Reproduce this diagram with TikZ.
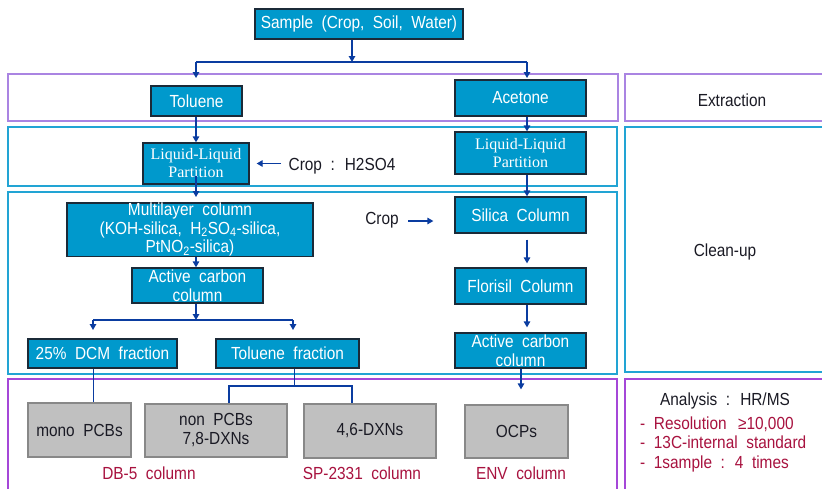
\documentclass[tikz,border=0pt]{standalone}
\usepackage{fontspec}
\setmainfont{Liberation Sans}[FakeStretch=0.88, WordSpace={2.0}]
\newfontfamily\serifbox{Liberation Serif}
\usetikzlibrary{arrows.meta}

\definecolor{boxblue}{HTML}{0099CC}
\definecolor{boxedge}{HTML}{1B2A38}
\definecolor{boxgray}{HTML}{C0C0C0}
\definecolor{grayedge}{HTML}{888888}
\definecolor{flowblue}{HTML}{0A3CA0}
\definecolor{extractframe}{HTML}{AA84E2}
\definecolor{cleanframe}{HTML}{22A4D4}
\definecolor{analysisframe}{HTML}{A547D8}
\definecolor{notered}{HTML}{A8123F}
\definecolor{inktext}{HTML}{1A1A24}

\newcommand{\fsz}[2]{\fontsize{#1}{#2}\selectfont}

\tikzset{
  bluebox/.style={draw=boxedge, fill=boxblue, line width=1.3pt, text=white,
    inner sep=0pt, align=center, font=\fsz{17.5}{18.5}},
  serifbox/.style={bluebox, font=\serifbox\fsz{16}{18}},
  graybox/.style={draw=grayedge, fill=boxgray, line width=1.2pt, text=inktext,
    inner sep=0pt, align=center, font=\fsz{17.5}{19}},
  flow/.style={draw=flowblue, line width=1.3pt, -{Triangle[length=6pt,width=6.5pt]}},
  branch/.style={draw=flowblue, line width=2pt},
  feed/.style={draw=flowblue, line width=1pt},
  stagelabel/.style={text=inktext, font=\fsz{17.5}{19}},
  columnlabel/.style={text=notered, font=\fsz{17.5}{19}},
  frame/.style={line width=1.4pt, fill=none},
}

\begin{document}
\begin{tikzpicture}[x=1pt, y=-1pt]
\useasboundingbox[fill=white] (0,0) rectangle (822,488);

% stage frames
\draw[frame, draw=extractframe] (8,74) rectangle (618,121);
\draw[frame, draw=extractframe] (625,74) rectangle (830,121);
\draw[frame, draw=cleanframe] (8,127) rectangle (617,186);
\draw[frame, draw=cleanframe] (8,192) rectangle (617,374);
\draw[frame, draw=cleanframe] (625,127) rectangle (830,372);
\draw[frame, draw=analysisframe] (8,379) rectangle (617,500);
\draw[frame, draw=analysisframe] (625,379) rectangle (830,500);

% stage names
\node[stagelabel] (extraction) at (732,100) {Extraction};
\node[stagelabel] (cleanup) at (725,252) {Clean-up};
\node[stagelabel] (analysis) at (725,401) {Analysis : HR/MS};
\node[anchor=west, text=notered, font=\fsz{17.5}{19.5}, align=left, inner sep=0pt]
  (specs) at (640,444) {- Resolution \,≥10,000\\- 13C-internal standard\\- 1sample : 4 times};

% process boxes
\node[bluebox, minimum width=208, minimum height=30] (sample) at (359,24) {Sample (Crop, Soil, Water)};
\node[bluebox, minimum width=91, minimum height=30] (toluene) at (196.5,101) {Toluene};
\node[bluebox, minimum width=131, minimum height=36] (acetone) at (520.5,98) {Acetone};
\node[serifbox, minimum width=106, minimum height=41] (llpL) at (196,163.5) {Liquid-Liquid\\Partition};
\node[serifbox, minimum width=131, minimum height=42] (llpR) at (520.5,153) {Liquid-Liquid\\Partition};
\node[bluebox, minimum width=246, minimum height=53] (multi) at (190,229.5)
  {Multilayer column\\(KOH-silica, H\textsubscript{2}SO\textsubscript{4}-silica,\\PtNO\textsubscript{2}-silica)};
\node[bluebox, minimum width=131, minimum height=35] (acL) at (197.5,285.5) {Active carbon\\column};
\node[bluebox, minimum width=149, minimum height=29] (dcm) at (102.5,353.5) {25\% DCM fraction};
\node[bluebox, minimum width=143, minimum height=29] (tolfrac) at (287.5,353.5) {Toluene fraction};
\node[bluebox, minimum width=131, minimum height=36] (silica) at (520.5,215) {Silica Column};
\node[bluebox, minimum width=131, minimum height=36] (florisil) at (520.5,286) {Florisil Column};
\node[bluebox, minimum width=131, minimum height=35] (acR) at (520.5,350.5) {Active carbon\\column};

% fractions
\node[graybox, minimum width=103, minimum height=54] (mono) at (79.5,430) {mono PCBs};
\node[graybox, minimum width=142, minimum height=53] (nonpcb) at (216,430.5) {non PCBs\\7,8-DXNs};
\node[graybox, minimum width=132, minimum height=54] (dxn46) at (370,431) {4,6-DXNs};
\node[graybox, minimum width=103, minimum height=53] (ocps) at (516.5,431.5) {OCPs};

\node[columnlabel] (db5) at (149,473) {DB-5 column};
\node[columnlabel] (sp2331) at (362,473) {SP-2331 column};
\node[columnlabel] (env) at (521,473) {ENV column};

% side reagents
\node[stagelabel] (cropacid) at (342,166) {Crop : H2SO4};
\node[stagelabel] (cropsil) at (382,220) {Crop};

% connector columns and junctions
\coordinate (sx) at (352,0);
\coordinate (cl) at (196,0);
\coordinate (cr) at (527,0);
\coordinate (co) at (521,0);
\coordinate (split) at (352,62);
\coordinate (sL) at (196,62);
\coordinate (sR) at (527,62);
\coordinate (sLe) at (196,78);
\coordinate (sRe) at (527,78);
\coordinate (mIn) at (196,197);
\coordinate (acidtail) at (281,163.5);
\coordinate (siltail) at (408,221);
\coordinate (fsplit) at (196,320);
\coordinate (fL) at (93,320);
\coordinate (fR) at (293,320);
\coordinate (fLe) at (93,330);
\coordinate (fRe) at (293,330);
\coordinate (dcol) at (93,0);
\coordinate (tcol) at (294,0);
\coordinate (tsplit) at (294,386);
\coordinate (tL) at (229,386);
\coordinate (tR) at (352,386);

% sample split
\draw[flow] (sx |- sample.south) -- (split);
\draw[branch] (sL) -- (sR);
\draw[flow] (sL) -- (sLe);
\draw[flow] (sR) -- (sRe);

% toluene route
\draw[flow] (cl |- toluene.south) -- (cl |- llpL.north);
\draw[flow, shorten >=7pt] (acidtail) -- (llpL.east);
\draw[flow] ([yshift=9pt]cl |- llpL.south) -- (mIn);
\draw[flow] (cl |- multi.south) -- (cl |- acL.north);
\draw[flow] (cl |- acL.south) -- (fsplit);
\draw[branch] (fL) -- (fR);
\draw[flow] (fL) -- (fLe);
\draw[flow] (fR) -- (fRe);
\draw[feed] (dcol |- dcm.south) -- (dcol |- mono.north);
\draw[feed] (tcol |- tolfrac.south) -- (tsplit);
\draw[branch] (tL |- nonpcb.north) -- (tL) -- (tR) -- (tR |- dxn46.north);

% acetone route
\draw[flow] (cr |- acetone.south) -- (cr |- llpR.north);
\draw[flow] (cr |- llpR.south) -- (cr |- silica.north);
\draw[flow, shorten >=21pt] (siltail) -- (siltail -| silica.west);
\draw[flow, shorten <=6pt, shorten >=4pt] (cr |- silica.south) -- (cr |- florisil.north);
\draw[flow, shorten >=5pt] (cr |- florisil.south) -- (cr |- acR.north);
\draw[flow, shorten >=15pt] (co |- acR.south) -- (co |- ocps.north);
\end{tikzpicture}
\end{document}
